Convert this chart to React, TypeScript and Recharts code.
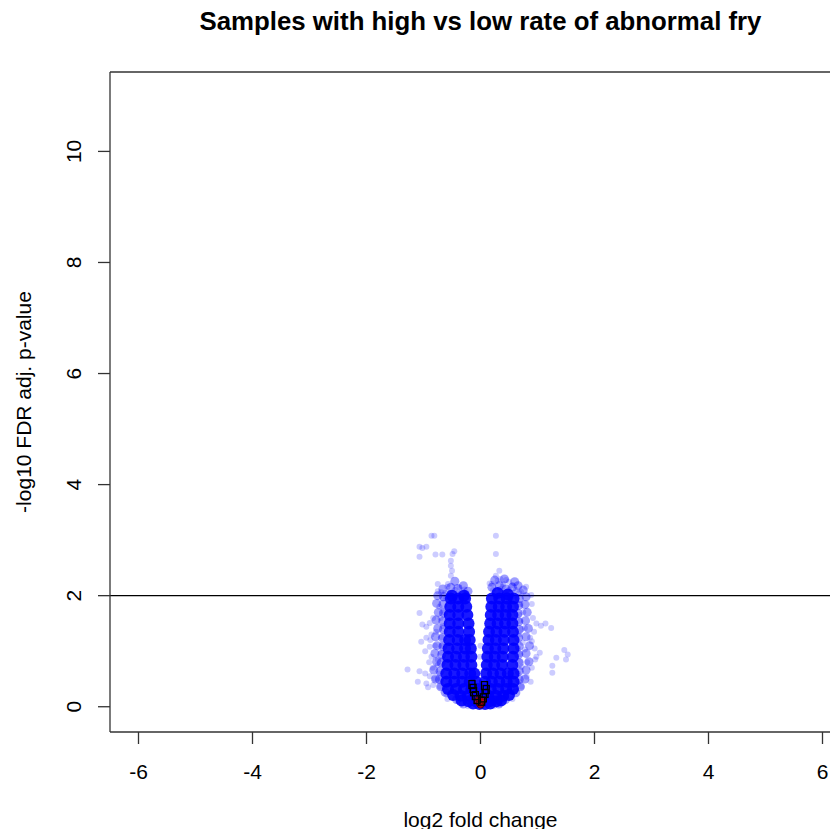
import React from 'react';
import { ScatterChart, Scatter, XAxis, YAxis, ReferenceLine } from 'recharts';

// log2 fold change / -log10 FDR adjusted p-value pairs
const coreLeftArm: [number, number][] = [
  [-0.5, 2.0], [-0.29, 2.0],
  [-0.52, 1.95], [-0.39, 1.95], [-0.27, 1.95],
  [-0.53, 1.8], [-0.39, 1.8], [-0.25, 1.8],
  [-0.54, 1.65], [-0.39, 1.65], [-0.23, 1.65],
  [-0.54, 1.5], [-0.39, 1.5], [-0.21, 1.5],
  [-0.54, 1.35], [-0.39, 1.35], [-0.2, 1.35],
  [-0.55, 1.2], [-0.4, 1.2], [-0.27, 1.2], [-0.19, 1.2],
  [-0.56, 1.05], [-0.41, 1.05], [-0.27, 1.05], [-0.17, 1.05],
  [-0.57, 0.9], [-0.43, 0.9], [-0.29, 0.9], [-0.16, 0.9],
  [-0.58, 0.75], [-0.44, 0.75], [-0.3, 0.75], [-0.16, 0.75],
  [-0.6, 0.6], [-0.46, 0.6], [-0.32, 0.6], [-0.18, 0.6], [-0.11, 0.6],
  [-0.6, 0.45], [-0.46, 0.45], [-0.32, 0.45], [-0.19, 0.45], [-0.08, 0.45],
];

const coreRightArm: [number, number][] = [
  [0.3, 2.05], [0.48, 2.02],
  [0.2, 1.95], [0.33, 1.95], [0.46, 1.95], [0.58, 1.95],
  [0.19, 1.8], [0.32, 1.8], [0.45, 1.8], [0.57, 1.8],
  [0.18, 1.65], [0.31, 1.65], [0.44, 1.65], [0.56, 1.65],
  [0.17, 1.5], [0.3, 1.5], [0.43, 1.5], [0.56, 1.5],
  [0.15, 1.35], [0.28, 1.35], [0.42, 1.35], [0.57, 1.35],
  [0.14, 1.2], [0.27, 1.2], [0.41, 1.2], [0.58, 1.2],
  [0.13, 1.05], [0.26, 1.05], [0.4, 1.05], [0.58, 1.05],
  [0.12, 0.9], [0.25, 0.9], [0.39, 0.9], [0.57, 0.9],
  [0.11, 0.75], [0.24, 0.75], [0.38, 0.75], [0.56, 0.75],
  [0.1, 0.6], [0.22, 0.6], [0.35, 0.6], [0.48, 0.6], [0.58, 0.6],
  [0.08, 0.45], [0.2, 0.45], [0.33, 0.45], [0.46, 0.45], [0.58, 0.45],
];

const coreBase: [number, number][] = [
  [-0.57, 0.32], [-0.43, 0.32], [-0.29, 0.32], [-0.16, 0.32], [-0.05, 0.32],
  [0.06, 0.32], [0.18, 0.32], [0.31, 0.32], [0.45, 0.32], [0.57, 0.32],
  [-0.48, 0.21], [-0.35, 0.2], [-0.22, 0.2], [-0.1, 0.2], [0.02, 0.2],
  [0.14, 0.2], [0.27, 0.2], [0.4, 0.2], [0.5, 0.21],
  [-0.33, 0.11], [-0.21, 0.1], [-0.08, 0.1], [0.04, 0.1], [0.16, 0.1], [0.28, 0.1], [0.36, 0.11],
  [-0.13, 0.06], [-0.02, 0.05], [0.08, 0.05], [0.17, 0.06],
];

// half-saturated fringe around the dense V
const rimLeft: [number, number][] = [
  [-0.66, 2.12], [-0.75, 2.0], [-0.65, 1.98], [-0.77, 1.86], [-0.66, 1.84], [-0.74, 1.7],
  [-0.65, 1.69], [-0.78, 1.56], [-0.66, 1.54], [-0.75, 1.41], [-0.65, 1.39], [-0.79, 1.26],
  [-0.67, 1.24], [-0.76, 1.1], [-0.66, 1.09], [-0.8, 0.96], [-0.68, 0.94], [-0.77, 0.81],
  [-0.69, 0.79], [-0.82, 0.66], [-0.71, 0.64], [-0.79, 0.5], [-0.72, 0.49], [-0.7, 0.36],
  [-0.62, 0.26], [-0.52, 2.15], [-0.4, 2.13], [-0.3, 2.18], [-0.45, 2.26], [-0.22, 2.08],
];

const rimRight: [number, number][] = [
  [0.66, 2.18], [0.75, 2.1], [0.8, 1.98], [0.68, 1.95], [0.78, 1.84], [0.67, 1.82],
  [0.82, 1.7], [0.66, 1.68], [0.79, 1.55], [0.67, 1.53], [0.84, 1.41], [0.68, 1.39],
  [0.8, 1.26], [0.67, 1.24], [0.86, 1.1], [0.68, 1.09], [0.8, 0.96], [0.67, 0.94],
  [0.85, 0.81], [0.68, 0.79], [0.8, 0.66], [0.68, 0.64], [0.78, 0.5], [0.68, 0.49],
  [0.7, 0.36], [0.62, 0.25], [0.2, 2.15], [0.33, 2.18], [0.45, 2.12], [0.56, 2.15],
  [0.25, 2.28], [0.42, 2.3], [0.6, 2.25],
];

const rimBase: [number, number][] = [
  [-0.42, 0.13], [-0.3, 0.05], [0.32, 0.05], [0.44, 0.13],
];

const sparseUpper: [number, number][] = [
  [-0.86, 3.08], [-0.81, 3.08], [0.27, 3.08],
  [-1.07, 2.88], [-1.02, 2.86], [-0.95, 2.88],
  [-1.07, 2.7], [-0.79, 2.74], [-0.67, 2.74], [-0.49, 2.75], [-0.46, 2.8],
  [-0.52, 2.63], [-0.52, 2.54], [-0.5, 2.45], [-0.52, 2.36],
  [0.27, 2.75], [0.33, 2.45], [0.27, 2.36], [0.3, 2.27], [0.2, 2.21], [0.4, 2.21],
  [-0.75, 2.21], [-0.57, 2.21], [-0.69, 2.06],
  [-0.75, 2.08], [-0.58, 2.16], [-0.37, 2.15], [-0.28, 2.11],
  [0.16, 2.22], [0.45, 2.28], [0.39, 2.16], [0.56, 2.19], [0.62, 2.1], [0.71, 2.07], [0.8, 2.16], [0.89, 2.01],
  [0.22, 2.1], [0.35, 2.12], [0.5, 2.1], [0.62, 2.06], [0.28, 2.0], [0.55, 1.98], [0.42, 2.05],
  [-0.45, 2.1], [-0.35, 2.05], [-0.55, 2.05], [-0.25, 2.05], [-0.6, 1.95],
];

const sparseLeft: [number, number][] = [
  [-1.07, 1.69], [-1.02, 1.48], [-0.95, 1.44], [-0.89, 1.51], [-0.95, 1.24], [-1.04, 1.17],
  [-0.97, 1.0], [-0.89, 1.08], [-0.8, 1.1], [-0.86, 0.9], [-0.75, 0.85], [-0.69, 0.97],
  [-1.28, 0.67], [-1.07, 0.64], [-0.97, 0.6], [-0.89, 0.55], [-1.1, 0.45],
  [-0.95, 0.42], [-0.83, 0.39], [-0.71, 0.36], [-0.6, 0.22], [-0.5, 0.16], [-0.4, 0.1],
  [-0.72, 1.8], [-0.7, 1.6], [-0.78, 1.35], [-0.68, 1.25], [-0.75, 0.75], [-0.72, 0.6],
  [-0.8, 0.5], [-0.66, 1.95], [-0.62, 2.05],
  [-0.66, 1.45], [-0.68, 1.1], [-0.7, 0.5], [-0.66, 0.85], [-0.65, 1.7],
  [-0.58, 0.14], [-0.22, 0.01], [-0.01, 0.9],
  [-0.86, 1.3], [-0.84, 0.7], [-0.9, 0.8], [-0.83, 1.6], [-0.88, 1.2], [-0.92, 0.35],
];

const sparseRight: [number, number][] = [
  [0.98, 1.5], [1.06, 1.46], [1.14, 1.5], [1.24, 1.42], [0.78, 1.42], [0.87, 1.24], [0.9, 1.18],
  [0.98, 0.9], [1.04, 0.97], [0.96, 0.85],
  [1.47, 1.02], [1.53, 0.94], [1.5, 0.85], [1.33, 0.88], [1.26, 0.74], [1.26, 0.61],
  [0.78, 1.03], [0.72, 0.72], [0.81, 0.54], [0.67, 0.45], [0.72, 0.36], [0.55, 0.27], [0.43, 0.18],
  [0.7, 1.85], [0.75, 1.7], [0.7, 1.55], [0.68, 1.3], [0.74, 1.15], [0.7, 0.95], [0.82, 0.8],
  [0.66, 0.6], [0.6, 2.0], [0.68, 2.05], [0.5, 2.25], [0.35, 2.3],
  [0.68, 1.65], [0.72, 1.4], [0.66, 1.05], [0.7, 0.82], [0.62, 0.3],
  [0.56, 0.14], [0.23, 0.01], [0.0, 1.1],
  [0.92, 1.6], [0.9, 0.7], [0.94, 1.35], [0.88, 0.45], [0.95, 1.05], [0.9, 1.85],
];

// genes flagged in the highlight set
const flagged: [number, number][] = [
  [-0.15, 0.4], [-0.13, 0.33], [-0.12, 0.27], [-0.09, 0.2], [-0.06, 0.13],
  [0.07, 0.38], [0.1, 0.31], [0.08, 0.24], [0.05, 0.16], [0.02, 0.1],
];

const redHits: [number, number][] = [
  [-0.05, 0.1], [-0.02, 0.06], [0.01, 0.05], [0.03, 0.08], [-0.03, 0.14], [0.0, 0.03], [0.04, 0.12],
];

const xTicks = [-6, -4, -2, 0, 2, 4, 6];
const yTicks = [0, 2, 4, 6, 8, 10];
const cutoff = 2;
const yTop = 11.43;

const FONT = '"Liberation Sans", Arial, sans-serif';
const BOX = '#333';
const PLOT_BOTTOM = 732;
const PLOT_MID_X = 480.5;

const toRows = (pts: [number, number][]) => pts.map(([fc, p]) => ({ fc, p }));

const coreDot = (props: any) => (
  <circle cx={props.cx} cy={props.cy} r={6} fill="#0000ff" fillOpacity={0.9} />
);
const rimDot = (props: any) => (
  <circle cx={props.cx} cy={props.cy} r={4.5} fill="#0000ff" fillOpacity={0.38} />
);
const faintDot = (props: any) => (
  <circle cx={props.cx} cy={props.cy} r={3} fill="#0000ff" fillOpacity={0.2} />
);
const squareDot = (props: any) => (
  <rect x={props.cx - 3} y={props.cy - 4} width={6} height={8} fill="none" stroke="#000" strokeWidth={1.3} />
);
const redDot = (props: any) => (
  <circle cx={props.cx} cy={props.cy} r={3.2} fill="#d00000" fillOpacity={0.6} stroke="#400000" strokeWidth={0.8} />
);

const XTick = (props: any) => (
  <text x={props.x} y={props.y + 33} textAnchor="middle" fontSize={21} fontFamily={FONT} fill="#000">
    {props.payload.value}
  </text>
);

const YTick = (props: any) => (
  <text
    transform={`translate(${props.x - 15},${props.y}) rotate(-90)`}
    textAnchor="middle"
    fontSize={21}
    fontFamily={FONT}
    fill="#000"
  >
    {props.payload.value}
  </text>
);

export default function App() {
  return (
    <div style={{ margin: -8, width: 838, height: 837, overflow: 'hidden', background: '#fff' }}>
      <ScatterChart width={852} height={837} margin={{ top: 72, right: 1, bottom: 0, left: 50 }}>
        <XAxis
          type="number"
          dataKey="fc"
          domain={[-6.5, 6.5]}
          ticks={xTicks}
          allowDataOverflow
          height={105}
          tickSize={12}
          tick={<XTick />}
          axisLine={{ stroke: BOX, strokeWidth: 1.3 }}
          tickLine={{ stroke: BOX, strokeWidth: 1.3 }}
          label={{
            content: () => (
              <text x={PLOT_MID_X} y={PLOT_BOTTOM + 95} textAnchor="middle" fontSize={21} fontFamily={FONT} fill="#000">
                log2 fold change
              </text>
            ),
          }}
        />
        <YAxis
          type="number"
          dataKey="p"
          domain={[-0.455, yTop]}
          ticks={yTicks}
          allowDataOverflow
          width={60}
          tickSize={12}
          tick={<YTick />}
          axisLine={{ stroke: BOX, strokeWidth: 1.3 }}
          tickLine={{ stroke: BOX, strokeWidth: 1.3 }}
          label={{
            content: (lp: any) => (
              <text
                transform={`translate(${lp.viewBox.x - 19},${lp.viewBox.y + lp.viewBox.height / 2}) rotate(-90)`}
                textAnchor="middle"
                fontSize={21}
                fontFamily={FONT}
                fill="#000"
              >
                -log10 FDR adj. p-value
              </text>
            ),
          }}
        />
        <Scatter data={toRows(sparseUpper)} shape={faintDot} isAnimationActive={false} />
        <Scatter data={toRows(sparseLeft)} shape={faintDot} isAnimationActive={false} />
        <Scatter data={toRows(sparseRight)} shape={faintDot} isAnimationActive={false} />
        <Scatter data={toRows(rimLeft)} shape={rimDot} isAnimationActive={false} />
        <Scatter data={toRows(rimRight)} shape={rimDot} isAnimationActive={false} />
        <Scatter data={toRows(rimBase)} shape={rimDot} isAnimationActive={false} />
        <Scatter data={toRows(coreLeftArm)} shape={coreDot} isAnimationActive={false} />
        <Scatter data={toRows(coreRightArm)} shape={coreDot} isAnimationActive={false} />
        <Scatter data={toRows(coreBase)} shape={coreDot} isAnimationActive={false} />
        <Scatter data={toRows(redHits)} shape={redDot} isAnimationActive={false} />
        <Scatter data={toRows(flagged)} shape={squareDot} isAnimationActive={false} />
        <ReferenceLine y={cutoff} stroke="#000" strokeWidth={1.3} />
        <ReferenceLine
          y={yTop}
          stroke={BOX}
          strokeWidth={1.3}
          label={{
            content: () => (
              <text x={PLOT_MID_X} y={30} textAnchor="middle" fontSize={25.8} fontWeight="bold" fontFamily={FONT} fill="#000">
                Samples with high vs low rate of abnormal fry
              </text>
            ),
          }}
        />
      </ScatterChart>
    </div>
  );
}
